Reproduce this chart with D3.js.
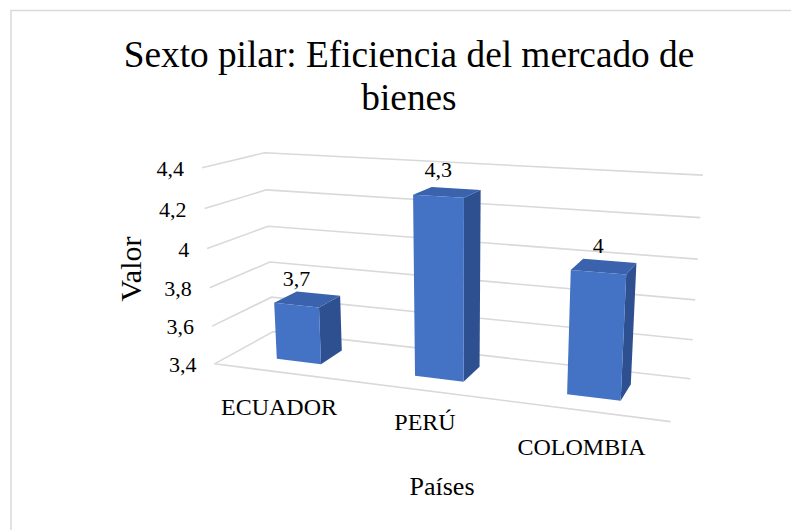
<!DOCTYPE html>
<meta charset="utf-8">
<head>
  <title>Sexto pilar</title>
</head>

<style>
body {
  margin: 0;
  background: #fff;
}
</style>

<body>
  <div id="content">
    <svg width="791" height="530"></svg>
  </div>

  <script src="https://cdnjs.cloudflare.com/ajax/libs/d3/7.8.5/d3.min.js"></script>

  <script>
// data
var paises = ['ECUADOR', 'PERÚ', 'COLOMBIA'];
var valores = [3.7, 4.3, 4.0];
var etiquetas = ['3,7', '4,3', '4'];
var ticks = [3.4, 3.6, 3.8, 4.0, 4.2, 4.4];
var tickLabels = ['3,4', '3,6', '3,8', '4', '4,2', '4,4'];

var FONT = 'Liberation Serif';

var svg = d3.select('#content svg');

// border (only top and left show in the reference)
svg.append('rect')
  .attr('x', 11).attr('y', 10.5)
  .attr('width', 800).attr('height', 540)
  .attr('fill', 'none')
  .attr('stroke', '#d9d9d9')
  .attr('stroke-width', 1.5);

// camera: fit a 3x4 perspective matrix to points of the plot box
// world coords: x across categories 0..1, y value 0..1, z depth 0 (front)..1 (back)
var fitPts = [
  [0, 1, 0, 201.7, 168.3], [0, .8, 0, 205, 209], [0, .6, 0, 206.7, 248.3],
  [0, .4, 0, 209.3, 287.7], [0, .2, 0, 211.7, 326.7], [0, 0, 0, 215, 362.7],
  [0, 1, 1, 265, 152.3], [0, .8, 1, 266.7, 189.3], [0, .6, 1, 268.3, 226],
  [0, .4, 1, 270, 260.7], [0, .2, 1, 271.7, 297.7], [0, 0, 1, 273, 335],
  [1, 1, 1, 703.3, 175], [1, .8, 1, 700, 217.7], [1, .6, 1, 697.7, 259],
  [1, .4, 1, 695, 300], [1, .2, 1, 692.7, 339.3], [1, 0, 1, 690, 378.3],
  [1, 0, 0, 671.7, 422.7],
  [1 / 6, 0, .3, 299.2, 360.5], [1 / 6, .3, .3, 296.2, 304.2],
  [.5, 0, .3, 438.9, 377.5], [.5, .9, .3, 438.4, 197.2],
  [5 / 6, 0, .3, 593.3, 397.5], [5 / 6, .6, .3, 597.9, 272.9]
];

function solve(A, b) {
  var n = b.length;
  for (var c = 0; c < n; c++) {
    var p = c;
    for (var r = c + 1; r < n; r++) if (Math.abs(A[r][c]) > Math.abs(A[p][c])) p = r;
    var t = A[c]; A[c] = A[p]; A[p] = t;
    t = b[c]; b[c] = b[p]; b[p] = t;
    for (r = 0; r < n; r++) {
      if (r == c) continue;
      var f = A[r][c] / A[c][c];
      for (var k = c; k < n; k++) A[r][k] -= f * A[c][k];
      b[r] -= f * b[c];
    }
  }
  return b.map(function(d, i) { return d / A[i][i]; });
}

function fitCamera(pts) {
  var rows = [], rhs = [];
  pts.forEach(function(q) {
    var X = q[0], Y = q[1], Z = q[2], u = q[3], v = q[4];
    rows.push([X, Y, Z, 1, 0, 0, 0, 0, -u * X, -u * Y, -u * Z]); rhs.push(u);
    rows.push([0, 0, 0, 0, X, Y, Z, 1, -v * X, -v * Y, -v * Z]); rhs.push(v);
  });
  // normal equations
  var N = [], nb = [];
  for (var i = 0; i < 11; i++) {
    N.push([]);
    nb.push(d3.sum(rows, function(r, k) { return r[i] * rhs[k]; }));
    for (var j = 0; j < 11; j++) N[i].push(d3.sum(rows, function(r) { return r[i] * r[j]; }));
  }
  var p = solve(N, nb);
  return function(x, y, z) {
    var w = p[8] * x + p[9] * y + p[10] * z + 1;
    return [(p[0] * x + p[1] * y + p[2] * z + p[3]) / w,
            (p[4] * x + p[5] * y + p[6] * z + p[7]) / w];
  };
}

var project = fitCamera(fitPts);

var yScale = d3.scaleLinear().domain([3.4, 4.4]).range([0, 1]);
var xScale = d3.scaleBand().domain(paises).range([0, 1])
  .paddingInner(0.67).paddingOuter(0.335);
var z0 = 0.3, z1 = 0.7;

var line = d3.line();

function label(x, y, size, txt, anchor) {
  return svg.append('text')
    .attr('x', x).attr('y', y)
    .attr('text-anchor', anchor || 'middle')
    .style('font-family', FONT)
    .style('font-size', size + 'px')
    .text(txt);
}

// gridlines on left wall and back wall
var grid = svg.append('g')
  .attr('fill', 'none')
  .attr('stroke', '#d9d9d9')
  .attr('stroke-width', 1.6);

ticks.forEach(function(t) {
  var v = yScale(t);
  grid.append('path')
    .attr('d', line([project(0, v, 0), project(0, v, 1), project(1, v, 1)]));
});
// floor front edge
grid.append('path')
  .attr('d', line([project(0, 0, 0), project(1, 0, 0)]));

// tick labels
ticks.forEach(function(t, i) {
  var p = project(0, yScale(t), 0);
  label(p[0] - 18, p[1] + 8, 22, tickLabels[i], 'end');
});

// bars
var bars = svg.append('g');
paises.forEach(function(d, i) {
  var xa = xScale(d), xb = xa + xScale.bandwidth();
  var v = yScale(valores[i]);
  var g = bars.append('g');
  // right side
  g.append('path')
    .attr('d', line([project(xb, 0, z0), project(xb, 0, z1), project(xb, v, z1), project(xb, v, z0)]) + 'Z')
    .attr('fill', '#2f5090');
  // top
  g.append('path')
    .attr('d', line([project(xa, v, z0), project(xb, v, z0), project(xb, v, z1), project(xa, v, z1)]) + 'Z')
    .attr('fill', '#3a62ad');
  // front
  g.append('path')
    .attr('d', line([project(xa, 0, z0), project(xb, 0, z0), project(xb, v, z0), project(xa, v, z0)]) + 'Z')
    .attr('fill', '#4472c4');

  // value label, centred over the front face
  var c = project(xa + xScale.bandwidth() / 2, v, z0);
  label(c[0], c[1] - 19.5, 22, etiquetas[i]);
});

// category labels
var catPos = [[279, 415], [425, 430], [581.5, 455]];
paises.forEach(function(d, i) {
  label(catPos[i][0], catPos[i][1], 24, d);
});

// title
label(409, 67, 37.3, 'Sexto pilar: Eficiencia del mercado de');
label(409, 110, 37.3, 'bienes');

// axis titles
label(0, 0, 30, 'Valor')
  .attr('transform', 'translate(141,269) rotate(-90)');
label(442, 495, 26, 'Países');
  </script>
</body>
</html>
